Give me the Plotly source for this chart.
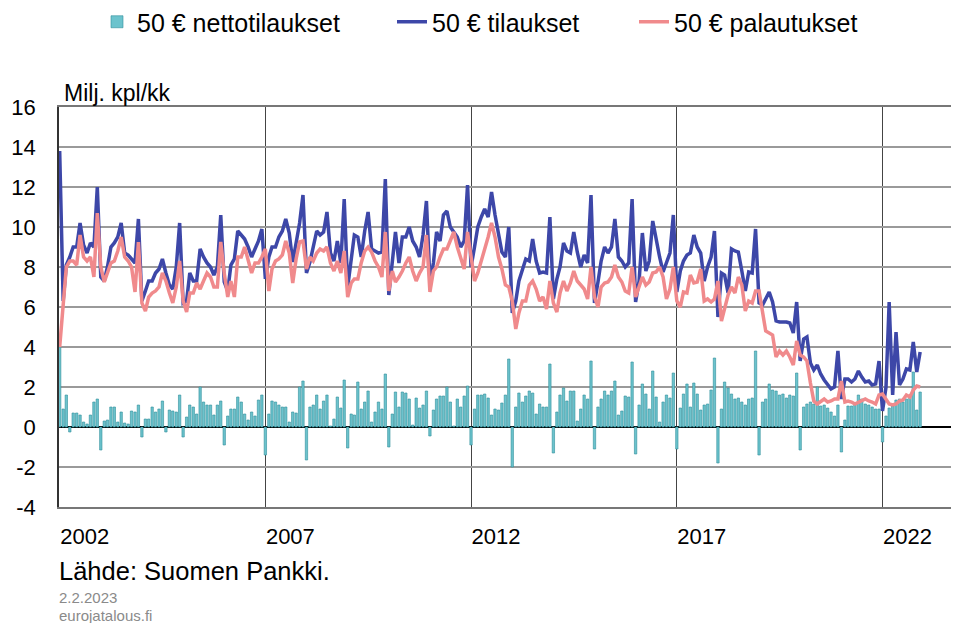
import pandas as pd
import plotly.graph_objects as go

# ---- data (monthly, Jan 2002 - Dec 2022), million pcs / month ----
months = pd.date_range("2002-01-01", periods=252, freq="MS")

tilaukset = [
    13.8, 6.3, 8.1, 8.5, 9.0, 9.0, 10.2, 9.1, 8.7, 9.2, 9.0, 12.0,
    7.5, 7.3, 8.0, 9.0, 9.2, 9.5, 10.2, 8.7, 8.6, 8.4, 8.2, 10.4,
    6.3, 6.8, 7.3, 7.3, 7.7, 7.9, 8.4, 7.7, 7.1, 6.9, 8.0, 10.2,
    6.2, 6.3, 7.7, 7.3, 7.3, 8.9, 8.5, 8.2, 8.0, 7.6, 8.0, 10.6,
    7.25, 6.8, 8.1, 8.4, 9.8, 9.6, 9.4, 9.0, 8.5, 8.9, 9.3, 9.9,
    7.4, 8.5, 9.0, 9.0, 9.5, 9.8, 10.4, 9.7, 8.25, 9.2, 10.2, 11.6,
    7.7, 8.25, 9.0, 9.8, 9.6, 9.75, 10.75, 8.7, 8.3, 9.3, 8.2, 11.4,
    7.0, 8.3, 9.6, 9.5, 8.5, 9.8, 10.75, 8.9, 8.8, 8.7, 8.75, 12.4,
    6.6, 8.2, 9.75, 8.2, 9.5, 9.5, 10.0, 9.3, 9.0, 8.5, 9.6, 11.3,
    7.3, 8.2, 9.75, 9.3, 10.6, 10.8, 10.0, 9.75, 9.5, 9.0, 9.3, 12.1,
    8.0, 9.0, 10.0, 10.5, 10.9, 10.5, 11.75, 10.6, 9.75, 8.75, 8.5, 10.0,
    5.7, 6.3, 7.3, 7.8, 8.4, 8.3, 9.4, 8.3, 7.7, 7.75, 7.7, 10.5,
    6.4, 7.4, 8.0, 9.2, 8.8, 8.7, 9.75, 8.75, 8.0, 8.6, 8.2, 11.6,
    6.2, 7.25, 8.3, 9.0, 8.7, 9.0, 10.4, 8.5, 8.3, 8.0, 8.2, 11.4,
    6.25, 7.3, 9.7, 7.8, 8.3, 10.3, 9.3, 8.5, 7.75, 8.2, 8.7, 10.6,
    6.75, 7.8, 8.3, 8.6, 8.7, 9.6, 9.0, 8.7, 7.3, 8.0, 8.5, 9.8,
    5.5, 7.7, 7.6, 6.7, 8.9, 8.8, 8.75, 7.8, 6.8, 7.75, 7.7, 9.9,
    6.2, 6.1, 6.4, 6.75, 6.25, 5.3, 5.25, 5.25, 5.25, 5.2, 4.7, 6.25,
    3.3, 4.4, 4.5, 3.2, 2.85, 3.1, 2.65, 2.35, 2.15, 1.9, 2.0, 3.8,
    1.4, 2.4, 2.4, 2.25, 2.4, 2.8, 2.5, 2.25, 2.3, 2.1, 2.15, 3.3,
    0.8, 2.0, 6.25, 1.6, 4.75, 2.1, 2.4, 2.9, 2.85, 4.25, 2.75, 3.75,
]

palautukset = [
    4.0, 6.0, 8.0, 8.3, 8.3, 8.1, 9.6, 8.5, 8.3, 8.5, 7.5, 10.7,
    8.0, 7.25, 7.7, 8.2, 8.3, 8.8, 9.5, 8.5, 8.3, 8.0, 6.75, 9.25,
    6.2, 5.8, 6.5, 6.7, 6.8, 7.0, 7.7, 7.3, 6.7, 6.2, 7.0, 8.3,
    6.3, 5.75, 6.7, 6.7, 7.2, 6.9, 7.3, 7.7, 7.5, 7.0, 7.0, 9.25,
    7.7, 6.5, 7.3, 6.5, 8.5, 8.5, 9.0, 8.3, 7.7, 8.2, 8.2, 8.5,
    8.9, 6.8, 7.9, 8.3, 8.4, 8.6, 9.3, 8.7, 7.2, 8.4, 9.25, 9.3,
    7.9, 8.5, 8.3, 8.7, 8.9, 8.8, 9.0, 8.2, 7.8, 8.3, 7.7, 8.8,
    6.5, 7.2, 7.4, 7.4, 8.2, 8.8, 9.0, 8.75, 8.3, 8.0, 7.5, 9.75,
    6.8, 7.8, 7.25, 7.5, 7.8, 8.2, 8.5, 7.8, 7.3, 7.7, 8.0, 9.6,
    6.75, 7.8, 8.0, 8.5, 8.9, 8.9, 9.3, 9.75, 9.0, 8.5, 7.9, 9.75,
    8.5, 7.3, 7.7, 8.3, 8.8, 9.5, 10.2, 9.5, 8.5, 7.9, 7.1, 7.0,
    6.3, 4.9, 5.7, 6.3, 6.3, 7.1, 7.3, 6.9, 6.3, 6.5, 5.9, 7.3,
    6.2, 5.75, 6.7, 7.3, 6.8, 7.2, 7.8, 7.3, 7.1, 6.9, 6.4, 8.0,
    6.5, 6.0, 7.0, 7.2, 7.25, 7.5, 8.1, 7.5, 7.25, 6.8, 6.7, 8.0,
    6.5, 7.0, 7.5, 7.1, 7.25, 7.7, 7.75, 8.0, 7.5, 6.4, 6.9, 8.0,
    6.3, 6.0, 6.75, 6.7, 7.6, 7.2, 7.25, 7.9, 6.3, 6.4, 6.25, 6.4,
    7.3, 5.3, 6.0, 6.6, 7.0, 6.7, 7.5, 7.1, 5.8, 6.3, 6.2, 6.8,
    6.8, 5.8, 4.8, 4.7, 4.6, 3.5, 3.8, 3.6, 3.8, 3.5, 3.1, 4.3,
    3.6, 3.5, 3.3, 2.2, 1.3, 1.15, 1.3, 1.4, 1.25, 1.3, 1.4, 1.4,
    2.3, 1.25, 1.3, 1.25, 1.15, 1.25, 1.3, 1.4, 1.3, 1.25, 1.15, 1.6,
    1.65, 1.4, 1.15, 1.1, 1.15, 1.3, 1.35, 1.6, 1.5, 1.85, 2.05, 2.0,
]

nettotilaukset = [
    4.0, 0.9, 1.6, -0.25, 0.7, 0.7, 0.6, 0.25, 0.15, 0.6, 1.25, 1.4,
    -1.15, 0.3, 0.35, 1.0, 1.0, 0.25, 0.75, 0.2, 0.15, 0.8, 0.75, 1.1,
    -0.5, 0.4, 0.4, 1.0, 0.75, 0.9, 1.3, -0.25, 0.85, 0.8, 0.75, 1.6,
    -0.5, 0.5, 1.1, 1.0, 0.65, 2.0, 1.25, 1.1, 1.1, 0.6, 1.1, 1.3,
    -0.9, 0.55, 0.9, 0.9, 1.5, 1.25, 0.65, 0.35, 0.75, 0.55, 1.35, 1.6,
    -1.4, 0.65, 1.3, 1.25, 1.1, 1.0, 1.0, 0.25, 0.75, 0.7, 2.0, 2.3,
    -1.65, 1.0, 1.1, 1.6, 0.9, 1.3, 1.6, 0.05, 0.4, 1.5, 0.95, 2.35,
    -1.05, 0.65, 0.6, 2.25, 0.9, 1.25, 1.8, 0.25, 0.75, 1.25, 0.9, 2.65,
    -1.0, 0.65, 1.75, 1.0, 1.75, 1.7, 1.4, 0.1, 1.45, 0.95, 1.1, 1.8,
    -0.45, 0.85, 1.4, 1.55, 1.55, 2.0, 1.25, 0.05, 1.4, 1.0, 1.55, 2.05,
    -0.9, 0.9, 1.6, 1.6, 1.65, 1.45, 0.6, 0.9, 0.85, 1.2, 1.6, 3.4,
    -2.0, 1.0, 1.7, 1.25, 1.55, 1.8, 1.7, 0.65, 1.15, 1.0, 1.0, 3.15,
    -1.3, 0.75, 1.6, 1.95, 1.3, 1.8, 1.8, 0.3, 0.9, 1.6, 1.4, 3.3,
    -1.1, 1.0, 1.4, 1.8, 1.6, 1.8, 2.3, 0.6, 0.8, 1.55, 1.5, 3.25,
    -1.35, 1.1, 2.15, 1.65, 0.9, 2.8, 1.5, 0.25, 1.25, 1.6, 1.45, 2.7,
    -1.1, 0.95, 1.65, 2.15, 1.0, 2.2, 1.65, 0.85, 1.1, 1.15, 1.85, 3.45,
    -1.8, 0.9, 2.25, 1.95, 1.65, 1.4, 1.45, 1.25, 1.1, 1.4, 1.45, 3.8,
    -1.4, 1.25, 1.4, 2.15, 1.85, 1.8, 1.6, 1.65, 1.45, 1.6, 1.55, 2.7,
    -1.15, 1.0, 1.15, 1.25, 1.15, 2.0, 1.05, 1.1, 0.95, 0.75, 0.55, 1.1,
    -1.25, 0.35, 1.05, 1.05, 1.1, 1.6, 1.4, 1.15, 1.1, 1.0, 0.9, 0.9,
    -0.75, 0.55, 0.95, 1.05, 1.35, 1.4, 1.25, 1.4, 1.6, 2.75, 0.85, 1.75,
]

tick_years = ["2002", "2007", "2012", "2017", "2022"]
y_ticks = [-4, -2, 0, 2, 4, 6, 8, 10, 12, 14, 16]
y_ticktext = [str(v) for v in y_ticks]

FONT = "Liberation Sans, Arial, sans-serif"
BAR_COLOR = "#6cc3cd"
BAR_EDGE = "#2f8f9b"
BLUE = "#3d47a8"
PINK = "#f08a8c"

W, H = 957, 623

fig = go.Figure()
fig.add_trace(go.Bar(
    x=months, y=nettotilaukset, name="50 € nettotilaukset",
    marker=dict(color=BAR_COLOR, line=dict(color=BAR_EDGE, width=0.6)),
    legend="legend", showlegend=True,
))
fig.add_trace(go.Scatter(
    x=months, y=tilaukset, name="50 € tilaukset", mode="lines",
    line=dict(color=BLUE, width=3.5), legend="legend2", showlegend=True,
))
fig.add_trace(go.Scatter(
    x=months, y=palautukset, name="50 € palautukset", mode="lines",
    line=dict(color=PINK, width=3.5), legend="legend3", showlegend=True,
))

leg_common = dict(orientation="h", yanchor="middle", xanchor="left",
                  xref="container", yref="container", y=1 - 22 / H,
                  font=dict(family=FONT, size=25, color="#000"),
                  bgcolor="rgba(0,0,0,0)", borderwidth=0)

fig.update_layout(
    width=W, height=H,
    showlegend=True,
    margin=dict(l=59, r=6, t=107, b=116, autoexpand=False),
    paper_bgcolor="white", plot_bgcolor="white",
    font=dict(family=FONT, size=22, color="#000"),
    bargap=0.25,
    legend=dict(x=97 / W, **leg_common),
    legend2=dict(x=392 / W, **leg_common),
    legend3=dict(x=634 / W, **leg_common),
    xaxis=dict(
        type="date",
        automargin=False,
        range=["2001-12-26", "2023-09-01"],
        tickvals=[f"{y}-01-01" for y in tick_years],
        ticktext=tick_years,
        ticklabelshift=25,
        ticklabelstandoff=9,
        ticks="",
        showgrid=True, gridcolor="#444", gridwidth=1,
        showline=True, linecolor="#777", linewidth=1.5, mirror=True,
        tickfont=dict(family=FONT, size=22, color="#000"),
    ),
    yaxis=dict(
        automargin=False,
        range=[-4, 16],
        tickvals=y_ticks,
        ticktext=y_ticktext,
        ticks="",
        ticklabelstandoff=17,
        showgrid=True, gridcolor="#9a9a9a", gridwidth=1.5,
        zeroline=True, zerolinecolor="#000", zerolinewidth=1.5,
        showline=True, linecolor="#333", linewidth=1.5,
        tickfont=dict(family=FONT, size=22, color="#000"),
    ),
    annotations=[
        dict(text="Milj. kpl/kk", xref="paper", yref="paper", x=(62 - 59) / 892,
             y=1 + (107 - 93) / 400, xanchor="left", yanchor="middle",
             showarrow=False, font=dict(family=FONT, size=23, color="#000")),
        dict(text="Lähde: Suomen Pankki.", xref="paper", yref="paper",
             x=(57 - 59) / 892, y=-(571 - 507) / 400, xanchor="left", yanchor="middle",
             showarrow=False, font=dict(family=FONT, size=25.5, color="#000")),
        dict(text="2.2.2023", xref="paper", yref="paper",
             x=(57 - 59) / 892, y=-(597 - 507) / 400, xanchor="left", yanchor="middle",
             showarrow=False, font=dict(family=FONT, size=15, color="#8a8a8a")),
        dict(text="eurojatalous.fi", xref="paper", yref="paper",
             x=(57 - 59) / 892, y=-(615 - 507) / 400, xanchor="left", yanchor="middle",
             showarrow=False, font=dict(family=FONT, size=15, color="#8a8a8a")),
    ],
)

fig.write_html(
    "out.html",
    config={"displayModeBar": False},
    post_script="document.body.style.margin='0px';document.body.style.overflow='hidden';",
)
